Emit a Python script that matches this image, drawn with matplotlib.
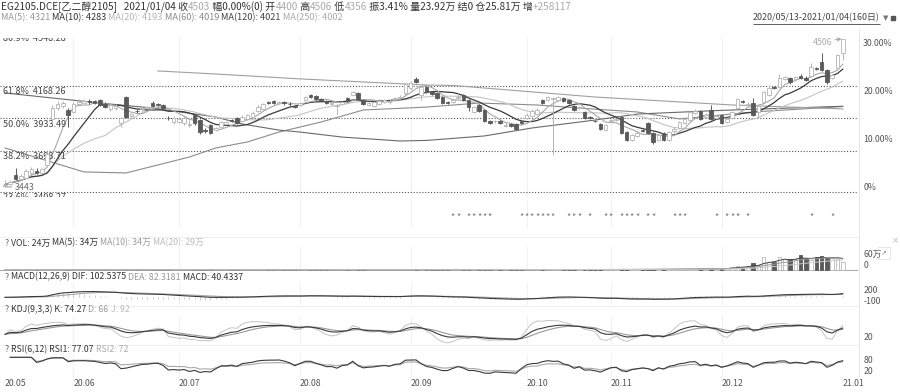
import numpy as np
import pandas as pd
import matplotlib
matplotlib.use("Agg")
import matplotlib.pyplot as plt

plt.rcParams["font.family"] = ["Noto Sans CJK SC", "DejaVu Sans"]

# ---- daily bars EG2105, 2020/05/13 - 2021/01/04 (160 days) ----
opens = [
    3450, 3465, 3525, 3500, 3510, 3540, 3560, 3545, 3600, 3930,
    4010, 4020, 3994, 3980, 4040, 4045, 4060, 4055, 4066, 4040,
    4000, 4005, 3900, 4087, 3950, 3990, 3998, 4005, 4045, 4035,
    4030, 3940, 3905, 3910, 3900, 3888, 3958, 3922, 3850, 3887,
    3850, 3875, 3895, 3920, 3937, 3915, 3930, 3945, 3990, 4002,
    4050, 4059, 4045, 4050, 4040, 4022, 4030, 4066, 4102, 4095,
    4070, 4059, 4040, 4022, 4040, 4080, 4102, 4116, 4066, 4030,
    4022, 4040, 4050, 4048, 4070, 4080, 4116, 4150, 4216, 4100,
    4159, 4120, 4116, 4087, 4050, 4051, 4080, 4102, 4066, 3980,
    4030, 3994, 3915, 3912, 3915, 3882, 3894, 3894, 3915, 3940,
    3950, 3965, 4066, 4066, 4070, 4066, 4080, 4066, 4022, 4008,
    3980, 3944, 3918, 3894, 3850, 3915, 3920, 3944, 3836, 3779,
    3810, 3850, 3901, 3829, 3779, 3829, 3779, 3840, 3865, 3900,
    3922, 3970, 3987, 3945, 3994, 3940, 3958, 3910, 3937, 4008,
    4059, 4030, 4044, 3980, 4051, 4102, 4159, 4159, 4216, 4223,
    4216, 4238, 4225, 4240, 4292, 4338, 4281, 4223, 4295, 4400,
]
closes = [
    3460, 3480, 3500, 3520, 3560, 3570, 3545, 3570, 3680, 4010,
    4040, 4044, 3958, 4040, 4050, 4055, 4048, 4044, 4030, 4015,
    4030, 4020, 3935, 3944, 3965, 3985, 4008, 4012, 4025, 4030,
    4010, 3936, 3940, 3930, 3935, 3892, 3901, 3836, 3845, 3829,
    3862, 3905, 3905, 3915, 3901, 3944, 3958, 3975, 4015, 4035,
    4044, 4045, 4050, 4044, 4035, 4015, 4042, 4087, 4087, 4073,
    4060, 4044, 4045, 4030, 4052, 4059, 4123, 4073, 4037, 4045,
    4050, 4060, 4066, 4060, 4080, 4087, 4180, 4190, 4195, 4160,
    4125, 4110, 4080, 4044, 4044, 4066, 4087, 4066, 4015, 4015,
    3987, 3915, 3901, 3915, 3901, 3890, 3879, 3858, 3901, 3960,
    3990, 3994, 4044, 4087, 4080, 4087, 4059, 4044, 3994, 4015,
    3937, 3940, 3915, 3858, 3887, 3922, 3930, 3829, 3779, 3815,
    3830, 3845, 3829, 3765, 3815, 3779, 3836, 3860, 3908, 3930,
    3980, 3990, 3930, 3960, 3930, 3950, 3901, 3930, 3980, 4073,
    4051, 4040, 3958, 4022, 4123, 4152, 4152, 4223, 4231, 4195,
    4231, 4223, 4210, 4300, 4290, 4281, 4195, 4245, 4388, 4503,
]
highs = [
    3490, 3495, 3580, 3535, 3570, 3585, 3575, 3580, 3700, 4030,
    4060, 4060, 4010, 4050, 4075, 4070, 4070, 4066, 4075, 4050,
    4045, 4035, 3945, 4095, 3975, 3998, 4018, 4025, 4055, 4045,
    4038, 3948, 3950, 3945, 3948, 3925, 3965, 3930, 3865, 3895,
    3875, 3915, 3918, 3928, 3945, 3955, 3968, 3985, 4028, 4045,
    4058, 4066, 4060, 4058, 4048, 4030, 4052, 4095, 4110, 4100,
    4080, 4066, 4055, 4040, 4062, 4088, 4130, 4125, 4072, 4055,
    4060, 4070, 4075, 4072, 4090, 4098, 4190, 4200, 4230, 4170,
    4166, 4130, 4124, 4095, 4058, 4075, 4115, 4110, 4072, 4025,
    4038, 4000, 3925, 3925, 3922, 3900, 3902, 3900, 3922, 3972,
    4000, 4005, 4075, 4095, 4090, 4095, 4088, 4072, 4030, 4025,
    3988, 3952, 3925, 3900, 3895, 3932, 3940, 3952, 3845, 3825,
    3840, 3860, 3910, 3838, 3825, 3838, 3845, 3870, 3918, 3942,
    3990, 4000, 3995, 3970, 4030, 3960, 3965, 3940, 3990, 4082,
    4066, 4050, 4080, 4030, 4132, 4175, 4166, 4250, 4240, 4230,
    4240, 4250, 4235, 4331, 4305, 4400, 4290, 4255, 4395, 4506,
]
lows = [
    3443, 3455, 3490, 3490, 3505, 3530, 3535, 3540, 3590, 3900,
    3995, 4005, 3872, 3970, 4030, 4035, 4040, 4035, 4020, 4005,
    3990, 3995, 3875, 3935, 3940, 3975, 3990, 3998, 4018, 4020,
    4000, 3925, 3895, 3900, 3890, 3870, 3890, 3825, 3832, 3820,
    3840, 3865, 3885, 3905, 3892, 3905, 3922, 3938, 3980, 3995,
    4035, 4038, 4035, 4032, 4025, 4005, 4020, 4058, 4078, 4065,
    4050, 4035, 4030, 3958, 4032, 4050, 4095, 4066, 4028, 4020,
    4015, 4032, 4042, 4040, 4060, 4072, 4105, 4140, 4188, 4066,
    4115, 4100, 4072, 4036, 4036, 4042, 4072, 4058, 3990, 3972,
    3978, 3905, 3892, 3900, 3892, 3872, 3870, 3850, 3894, 3932,
    3944, 3958, 4036, 4058, 3671, 4058, 4050, 4036, 3985, 4000,
    3930, 3932, 3908, 3850, 3842, 3908, 3912, 3820, 3770, 3770,
    3800, 3838, 3820, 3750, 3770, 3770, 3772, 3832, 3858, 3892,
    3915, 3962, 3922, 3938, 3922, 3932, 3894, 3900, 3930, 4000,
    4044, 4020, 3950, 3940, 4044, 4095, 4145, 4150, 4208, 4180,
    4205, 4215, 4200, 4232, 4280, 4270, 4180, 4215, 4285, 4356,
]
# volume, 万手
volumes = [
    0.3, 0.2, 0.4, 0.2, 0.3, 0.2, 0.2, 0.3, 0.5, 0.8, 0.6, 0.4, 0.5, 0.3, 0.3, 0.2, 0.3, 0.2, 0.4, 0.3,
    0.3, 0.2, 0.4, 0.6, 0.3, 0.2, 0.3, 0.2, 0.3, 0.2, 0.3, 0.4, 0.3, 0.2, 0.3, 0.2, 0.4, 0.5, 0.3, 0.4,
    0.3, 0.3, 0.2, 0.3, 0.4, 0.3, 0.3, 0.4, 0.5, 0.4, 0.3, 0.3, 0.4, 0.3, 0.3, 0.4, 0.4, 0.5, 0.4, 0.4,
    0.4, 0.4, 0.5, 0.6, 0.5, 0.5, 0.6, 0.5, 0.5, 0.5, 0.6, 0.5, 0.6, 0.6, 0.7, 0.6, 0.9, 0.8, 0.8, 0.7,
    0.8, 0.7, 0.8, 0.9, 0.7, 0.8, 0.9, 0.8, 1.0, 0.9, 0.9, 1.1, 1.0, 0.9, 1.0, 0.9, 1.0, 1.1, 1.0, 1.1,
    1.2, 1.1, 1.3, 1.2, 1.6, 1.3, 1.2, 1.3, 1.4, 1.3, 1.5, 1.4, 1.4, 1.6, 1.5, 1.5, 1.6, 1.9, 1.8, 1.7,
    1.8, 1.9, 2.0, 2.2, 2.1, 2.3, 2.2, 2.4, 2.6, 2.8, 3.0, 3.2, 3.5, 3.4, 4.0, 4.2, 4.5, 5.0, 10, 12,
    10, 12, 20, 15, 40, 25, 25, 40, 32, 32, 32, 45, 35, 30, 40, 42, 35, 35, 34, 24,
]

# long moving averages (need history before the window)
ma60_idx = [0, 15, 23, 35, 40, 46, 52, 60, 68, 80, 90, 101, 112, 120, 128, 142, 159]
ma60_val = [3722, 3550, 3543, 3657, 3722, 3765, 3836, 3908, 3994, 4015, 4044, 4030, 4000, 3980, 3930, 3980, 4019]
ma120_idx = [0, 18, 28, 40, 45, 52, 56, 64, 75, 80, 91, 100, 112, 120, 135, 159]
ma120_val = [4116, 4044, 4008, 3944, 3894, 3850, 3836, 3800, 3772, 3776, 3808, 3865, 3922, 3965, 3990, 4021]
ma250_idx = [29, 40, 56, 80, 85, 112, 138, 159]
ma250_val = [4274, 4252, 4217, 4173, 4170, 4087, 4030, 4002]

fib_pct = ["80.9%", "61.8%", "50.0%", "38.2%", "23.6%"]
fib_val = [4548.28, 4168.26, 3933.49, 3698.71, 3408.27]
pct_base = 3440
pct_ticks = [0, 10, 20, 30]
pct_labels = ["0%", "10.00%", "20.00%", "30.00%"]

signal_idx = [85, 86, 88, 89, 90, 91, 92, 98, 99, 100, 101, 102, 103, 104, 107, 108, 109,
              111, 114, 115, 117, 118, 119, 120, 122, 123, 127, 128, 129, 135, 137, 138, 139,
              141, 153, 157]

month_idx = [0, 13, 33, 56, 77, 99, 115, 136, 159]
month_labels = ["20.05", "20.06", "20.07", "20.08", "20.09", "20.10", "20.11", "20.12", "21.01"]

# ---- indicators ----
o = pd.Series(opens, dtype=float)
c = pd.Series(closes, dtype=float)
h = pd.Series(highs, dtype=float)
l = pd.Series(lows, dtype=float)
v = pd.Series(volumes, dtype=float)
n = len(c)
x = np.arange(n)
up = (c >= o).values

ma5 = c.rolling(5, min_periods=1).mean()
ma10 = c.rolling(10, min_periods=1).mean()
ma20 = c.rolling(20, min_periods=1).mean()

dif = c.ewm(span=12, adjust=False).mean() - c.ewm(span=26, adjust=False).mean()
dea = dif.ewm(span=9, adjust=False).mean()
hist = 2 * (dif - dea)

llv = l.rolling(9, min_periods=1).min()
hhv = h.rolling(9, min_periods=1).max()
rsv = (c - llv) / (hhv - llv) * 100
kk = rsv.ewm(alpha=1 / 3, adjust=False).mean()
dd = kk.ewm(alpha=1 / 3, adjust=False).mean()
jj = 3 * kk - 2 * dd


def rsi(period):
    diff = c.diff().fillna(0)
    gain = diff.clip(lower=0).ewm(alpha=1 / period, adjust=False).mean()
    total = diff.abs().ewm(alpha=1 / period, adjust=False).mean()
    return gain / total.replace(0, np.nan) * 100


rsi6 = rsi(6)
rsi12 = rsi(12)

# ---- figure ----
W, H = 900, 392
fig = plt.figure(figsize=(W / 100, H / 100), dpi=100)
XL = (-0.95, 161.9)
DARK = "#5a5a5a"
LIGHT = "#b4b4b4"
FS = 6.3


def panel(top, bottom, ylim):
    ax = fig.add_axes([0, 1 - bottom / H, 858 / W, (bottom - top) / H])
    ax.set_xlim(*XL)
    ax.set_ylim(*ylim)
    ax.axis("off")
    for m in month_idx[1:-1]:
        ax.axvline(m, color="#f1f1f1", lw=0.8, zorder=0)
    return ax


# main price panel (top edge at 38 px so the 80.9% label is half cut)
ax = panel(38, 197, (3370.5, 4510.1))
for val, pct in zip(fib_val, fib_pct):
    ax.axhline(val, color="#555555", lw=0.8, ls=(0, (1, 1.6)), zorder=1)
    ax.text(0.003, val - 9, f"{pct}  {val:.2f}", transform=ax.get_yaxis_transform(),
            va="top", ha="left", fontsize=6.5, color="#444444", clip_on=True)

ax.plot(ma60_idx, ma60_val, color="#8c8c8c", lw=0.8, zorder=2)
ax.plot(ma120_idx, ma120_val, color="#6a6a6a", lw=0.8, zorder=2)
ax.plot(ma250_idx, ma250_val, color="#a0a0a0", lw=0.8, zorder=2)
ax.plot(x, ma20, color="#c4c4c4", lw=0.8, zorder=2)
ax.plot(x, ma10, color="#3a3a3a", lw=0.9, zorder=2)
ax.plot(x, ma5, color="#a8a8a8", lw=0.8, zorder=2)

cols = np.where(up, LIGHT, DARK)
ax.vlines(x, lows, highs, colors=cols, lw=0.7, zorder=3, clip_on=False)
body_lo = np.minimum(o, c)
body_h = np.maximum((c - o).abs(), 2.5)
ax.bar(x, body_h, bottom=body_lo, width=0.68, color=np.where(up, "white", DARK),
       edgecolor=cols, lw=0.6, zorder=4)

for p, lab in zip(pct_ticks, pct_labels):
    ax.text(1.006, pct_base * (1 + p / 100), lab, transform=ax.get_yaxis_transform(),
            va="center", ha="left", fontsize=6.3, color="#555555", clip_on=False)

ax.annotate("4506", xy=(n - 1, highs[-1]), xytext=(153.3, 4481), fontsize=6.3,
            color="#aaaaaa", va="center", ha="left",
            arrowprops=dict(arrowstyle="->", color="#999999", lw=0.6, shrinkA=0, shrinkB=1))
ax.annotate("3443", xy=(0, lows[0]), xytext=(1.8, 3442), fontsize=6.3,
            color="#666666", va="center", ha="left",
            arrowprops=dict(arrowstyle="-", color="#888888", lw=0.6, shrinkA=0, shrinkB=0))

# signal strip
sig = panel(200, 228, (0, 1))
for i in signal_idx:
    sig.text(i, 0.42, "*", ha="center", va="center", fontsize=6.5, color="#777777")

# volume
axv = panel(247, 271, (-3, 69))
vcols = np.where(up, "#b8b8b8", DARK)
axv.bar(x, v, width=0.68, color=np.where(up, "white", DARK), edgecolor=vcols, lw=0.6, zorder=3)
axv.axhline(0, color="#a8a8a8", lw=0.8, zorder=2)
axv.plot(x, v.rolling(5, min_periods=1).mean(), color="#444444", lw=0.7, zorder=4)
axv.plot(x, v.rolling(10, min_periods=1).mean(), color="#9a9a9a", lw=0.7, zorder=4)
axv.plot(x, v.rolling(20, min_periods=1).mean(), color="#cccccc", lw=0.7, zorder=4)
axv.text(1.006, 60, "60万", transform=axv.get_yaxis_transform(), va="top", fontsize=FS, color="#555555")
axv.text(1.006, 0, "0", transform=axv.get_yaxis_transform(), va="bottom", fontsize=FS, color="#555555")

# MACD
axm = panel(283, 305, (-209, 391))
axm.vlines(x, 0, hist, colors="#c0c0c0", lw=0.6, zorder=2)
axm.plot(x, dea, color="#a8a8a8", lw=0.8, zorder=3)
axm.plot(x, dif, color="#3a3a3a", lw=0.8, zorder=3)
for val in (200, -100):
    axm.text(1.006, val, str(val), transform=axm.get_yaxis_transform(), va="center",
             fontsize=FS, color="#555555")

# KDJ
axk = panel(316, 344, (-22, 146))
axk.plot(x, jj, color="#c4c4c4", lw=0.7)
axk.plot(x, dd, color="#9a9a9a", lw=0.8)
axk.plot(x, kk, color="#3a3a3a", lw=0.8)
axk.text(1.006, 20, "20", transform=axk.get_yaxis_transform(), va="center", fontsize=FS, color="#555555")

# RSI
axr = panel(354, 378, (-12.7, 118))
axr.plot(x, rsi12, color="#a8a8a8", lw=0.8)
axr.plot(x, rsi6, color="#3a3a3a", lw=0.8)
for val in (80, 20):
    axr.text(1.006, val, str(val), transform=axr.get_yaxis_transform(), va="center",
             fontsize=FS, color="#555555")
for m, lab in zip(month_idx, month_labels):
    axr.text(m, -0.25, lab, transform=axr.get_xaxis_transform(), ha="left", va="center",
             fontsize=FS, color="#555555")

# ---- overlay in pixel coordinates for headers ----
ov = fig.add_axes([0, 0, 1, 1], zorder=10)
ov.set_xlim(0, W)
ov.set_ylim(H, 0)
ov.axis("off")
renderer = fig.canvas.get_renderer()


def rich(x0, y0, parts, size=FS):
    xx = x0
    for s, col in parts:
        t = ov.text(xx, y0, s, color=col, fontsize=size, va="center", ha="left")
        xx += t.get_window_extent(renderer).width
    return xx


D1, L1 = "#333333", "#aaaaaa"
rich(1, 7, [("EG2105.DCE[乙二醇2105]   2021/01/04 收", D1), ("4503", L1), (" 幅0.00%(0) 开", D1),
            ("4400", L1), (" 高", D1), ("4506", L1), (" 低", D1), ("4356", L1),
            (" 振3.41% 量23.92万 结0 仓25.81万 增", D1), ("+258117", L1)], size=7.2)
rich(1, 18, [("MA(5): 4321 ", "#999999"), ("MA(10): 4283 ", "#333333"), ("MA(20): 4193 ", "#b5b5b5"),
             ("MA(60): 4019 ", "#8a8a8a"), ("MA(120): 4021 ", "#444444"), ("MA(250): 4002", "#aaaaaa")],
     size=6.6)
xe = rich(753, 18, [("2020/05/13-2021/01/04(160日)", "#444444")], size=6.4)
ov.hlines(23.5, 753, xe, color="#444444", lw=0.6)
ov.text(xe + 3, 18, "▼", fontsize=5, color="#777777", va="center", ha="left", family="DejaVu Sans")
ov.add_patch(plt.Rectangle((891, 16), 4, 4, color="#555555"))

rich(5, 243, [("? ", "#666666"), ("VOL: 24万 ", D1), ("MA(5): 34万 ", D1), ("MA(10): 34万 ", "#999999"),
              ("MA(20): 29万", "#bbbbbb")])
rich(5, 277, [("? ", "#666666"), ("MACD(12,26,9) DIF: 102.5375 ", D1), ("DEA: 82.3181 ", "#999999"),
              ("MACD: 40.4337", D1)])
rich(5, 310, [("? ", "#666666"), ("KDJ(9,3,3) K: 74.27 ", D1), ("D: 66 ", "#999999"), ("J: 92", "#bbbbbb")])
rich(5, 350, [("? ", "#666666"), ("RSI(6,12) RSI1: 77.07 ", D1), ("RSI2: 72", "#aaaaaa")])

ov.text(895, 241, "×", fontsize=6, color="#bbbbbb", va="center", ha="center", family="DejaVu Sans")
ov.text(884, 253, "↗", fontsize=5, color="#888888", va="center", ha="center", family="DejaVu Sans")
ov.add_patch(plt.Rectangle((878, 247), 12, 12, fill=False, ec="#dddddd", lw=0.5))

for yy in (237, 306, 345):
    ov.hlines(yy, 0, 858, color="#eeeeee", lw=0.6)
ov.vlines(859, 28, 378, color="#e2e2e2", lw=0.6)

fig.savefig("out.png", dpi=100)
